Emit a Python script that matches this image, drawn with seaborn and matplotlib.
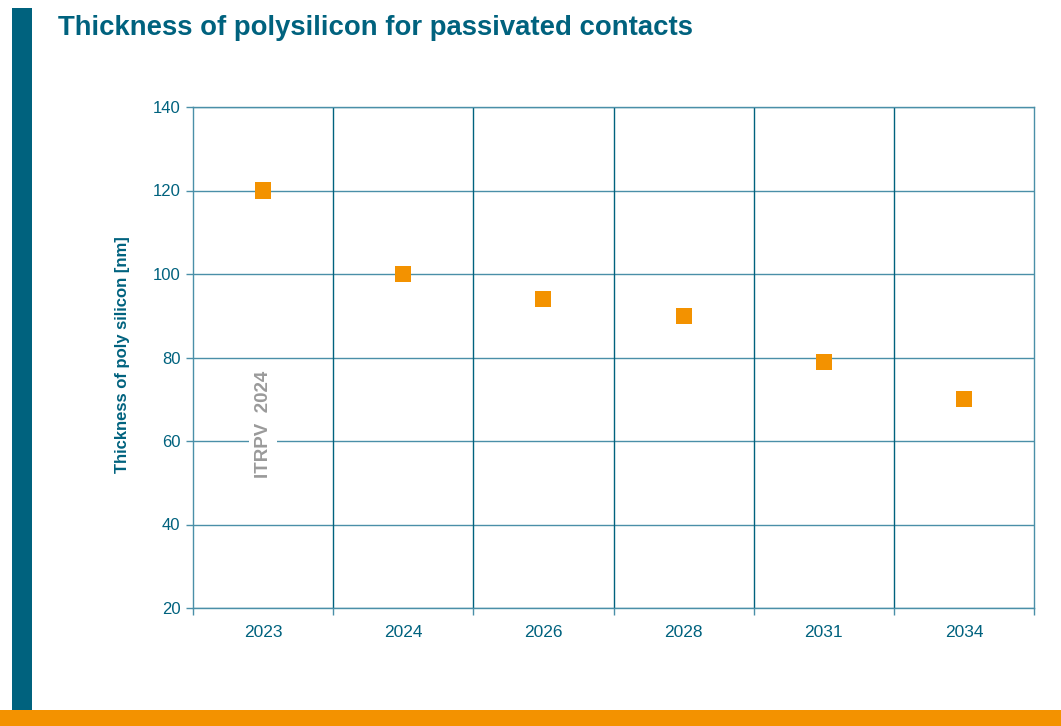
import matplotlib
matplotlib.use("Agg")
import matplotlib.pyplot as plt
from matplotlib.patches import Rectangle
import numpy as np
import pandas as pd
import seaborn as sns

years = ["2023", "2024", "2026", "2028", "2031", "2034"]
thickness_nm = [120, 100, 94, 90, 79, 70]
y_ticks = [20, 40, 60, 80, 100, 120, 140]

TEAL = "#00627E"
GRID = "#4A8FA8"
ORANGE = "#F39200"

sns.set_theme(style="white")
plt.rcParams["font.family"] = ["Liberation Sans", "DejaVu Sans"]

df = pd.DataFrame({"year": years, "thickness": thickness_nm})

W, H = 1061, 726
fig = plt.figure(figsize=(W / 100, H / 100), dpi=100)
ax = fig.add_axes([193 / W, 1 - 608 / H, (1034 - 193) / W, (608 - 107) / H])

sns.scatterplot(data=df, x="year", y="thickness", marker="s", s=135,
                color=ORANGE, edgecolor="none", linewidth=0, ax=ax, zorder=5)

ax.set_xlim(-0.5, len(years) - 0.5)
ax.set_ylim(20, 140)
ax.set_yticks(y_ticks)
ax.set_yticklabels([str(v) for v in y_ticks])
ax.set_xticks(range(len(years)))
ax.set_xticklabels(years)
ax.set_xticks(np.arange(-0.5, len(years)), minor=True)

ax.grid(False)
for v in y_ticks:
    ax.axhline(v, color=GRID, lw=1.0, zorder=1)
for b in np.arange(0.5, len(years) - 0.5):
    ax.axvline(b, color=TEAL, lw=1.0, zorder=1)

for side, sp in ax.spines.items():
    sp.set_visible(True)
    sp.set_color(GRID)
    sp.set_linewidth(1.0)

ax.tick_params(axis="y", which="major", left=True, length=5, width=1, color=GRID,
               labelsize=12, labelcolor=TEAL, pad=4)
ax.tick_params(axis="x", which="major", bottom=False, labelsize=12.5, labelcolor=TEAL, pad=6)
ax.tick_params(axis="x", which="minor", bottom=True, length=5, width=1, color=GRID)

ax.set_xlabel("")
ax.set_ylabel("Thickness of poly silicon [nm]", fontsize=12, fontweight="bold",
              color=TEAL)
ax.yaxis.set_label_coords((123 - 193) / (1034 - 193), (608 - 355) / (608 - 107))
ax.yaxis.label.set_va("center")

ax.text(0, 64, "ITRPV  2024", rotation=90, ha="center", va="center",
        fontsize=13.5, fontweight="bold", color="#9A9A9A", zorder=4,
        bbox=dict(facecolor="white", edgecolor="none", pad=4))

# page decorations
fig.patches.append(Rectangle((12 / W, 1 - 710 / H), 20 / W, 702 / H,
                             transform=fig.transFigure, facecolor=TEAL,
                             edgecolor="none", zorder=0))
fig.patches.append(Rectangle((0, 0), 1, 16 / H, transform=fig.transFigure,
                             facecolor=ORANGE, edgecolor="none", zorder=0))

fig.text(58 / W, 1 - 35 / H, "Thickness of polysilicon for passivated contacts",
         fontsize=19.8, fontweight="bold", color=TEAL, ha="left", va="baseline")

fig.savefig("out.png", dpi=100)
